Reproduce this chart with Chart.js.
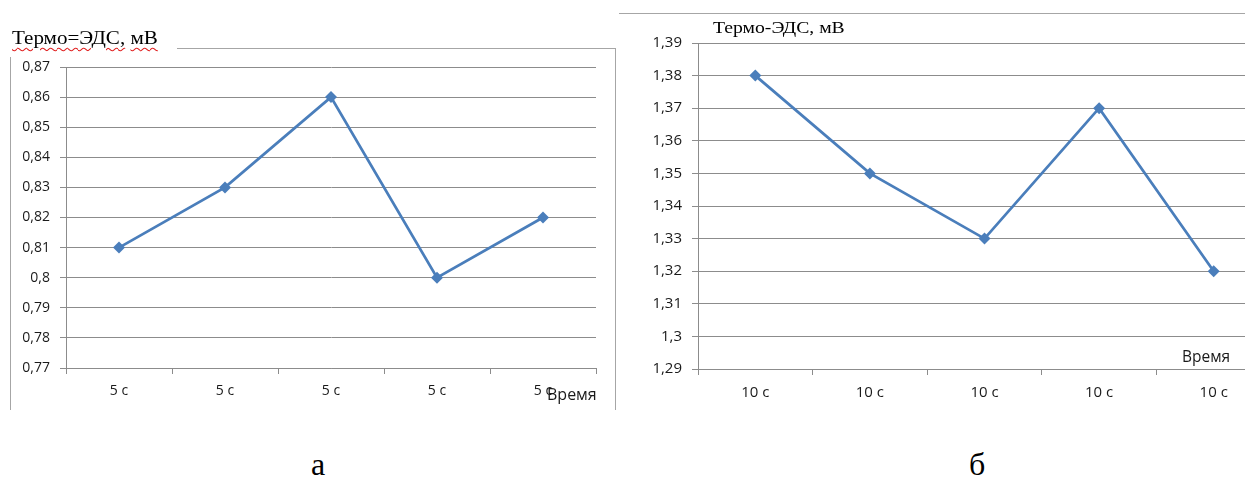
<!DOCTYPE html>
<html>
<head>
<meta charset="utf-8">
<script src="https://cdn.jsdelivr.net/npm/chart.js@4.4.1/dist/chart.umd.min.js"></script>
<style>
  html, body { margin: 0; padding: 0; background: #fff; overflow: hidden; }
  body { width: 1245px; height: 477px; position: relative; }
  canvas { position: absolute; }
  .frame { position: absolute; background: #a6a6a6; }
  .title { position: absolute; font-family: "Liberation Serif", serif; color: #000; white-space: nowrap; transform-origin: 0 0; }
  .spell { text-decoration: underline wavy #e02020; text-decoration-thickness: 1px; text-underline-offset: 3px; }
  .axisname { position: absolute; font-family: "Open Sans", sans-serif; color: #1a1a1a; white-space: nowrap; }
  .caption { position: absolute; font-family: "Liberation Serif", serif; font-size: 32px; color: #000; line-height: 1; }
</style>
</head>
<body>
<!-- chart frames -->
<div class="frame" style="left:10px; top:57px; width:1px; height:353px;"></div>
<div class="frame" style="left:177px; top:48px; width:439px; height:1px;"></div>
<div class="frame" style="left:615px; top:48px; width:1px; height:362px;"></div>
<div class="frame" style="left:619px; top:13px; width:626px; height:1px;"></div>

<canvas id="chartA" width="620" height="380" style="left:0px; top:40px;"></canvas>
<canvas id="chartB" width="680" height="420" style="left:610px; top:0px;"></canvas>

<div class="title" style="left:12px; top:28px; font-size:18px; transform:scaleX(1.17);"><span class="spell">Термо=ЭДС,</span> <span class="spell">мВ</span></div>
<div class="title" style="left:713px; top:19px; font-size:16px; transform:scaleX(1.23);">Термо-ЭДС, мВ</div>
<div class="axisname" style="left:547px; top:383px; font-size:16px;">Время</div>
<div class="axisname" style="left:1182px; top:345px; font-size:15.5px;">Время</div>

<div class="caption" style="left:311px; top:448px;">а</div>
<div class="caption" style="left:969px; top:448px;">б</div>

<script>
// Thermo-EMF measurements, 5 s exposure (chart а)
const categoriesA = ['5 с', '5 с', '5 с', '5 с', '5 с'];
const valuesA = [0.81, 0.83, 0.86, 0.80, 0.82];
const yTickLabelsA = ['0,77', '0,78', '0,79', '0,8', '0,81', '0,82', '0,83', '0,84', '0,85', '0,86', '0,87'];

// Thermo-EMF measurements, 10 s exposure (chart б)
const categoriesB = ['10 с', '10 с', '10 с', '10 с', '10 с'];
const valuesB = [1.38, 1.35, 1.33, 1.37, 1.32];
const yTickLabelsB = ['1,29', '1,3', '1,31', '1,32', '1,33', '1,34', '1,35', '1,36', '1,37', '1,38', '1,39'];

const LINE = '#4a7ebb';
const GRID = '#8c8c8c';
const TICKTEXT = '#1a1a1a';

function makeChart(id, labels, values, tickLabels, yMin, yMax, o) {
  return new Chart(document.getElementById(id), {
    type: 'line',
    data: {
      labels: labels,
      datasets: [{
        data: values,
        borderColor: LINE,
        backgroundColor: LINE,
        borderWidth: 2.75,
        pointStyle: 'rectRot',
        pointRadius: o.pointRadius,
        pointBorderWidth: 0,
        tension: 0
      }]
    },
    options: {
      responsive: false,
      animation: false,
      events: [],
      layout: { padding: { top: o.padTop, right: o.padRight, bottom: o.padBottom, left: 0 } },
      plugins: { legend: { display: false }, tooltip: { enabled: false }, title: { display: false } },
      scales: {
        x: {
          type: 'category',
          offset: true,
          grid: { offset: true, drawOnChartArea: false, drawTicks: true, tickLength: 6, color: GRID, lineWidth: 1 },
          border: { color: GRID, width: 1 },
          ticks: { color: TICKTEXT, font: { family: 'Open Sans', size: o.fontSize }, padding: o.xPad, maxRotation: 0, autoSkip: false },
          afterFit: s => { s.height = 40; }
        },
        y: {
          min: yMin,
          max: yMax,
          grid: { color: GRID, lineWidth: 1, tickLength: 6 },
          border: { color: GRID, width: 1 },
          ticks: {
            stepSize: 0.01,
            color: TICKTEXT,
            font: { family: 'Open Sans', size: o.fontSize },
            padding: o.yPad,
            callback: (v, i) => tickLabels[i]
          },
          afterFit: s => { s.width = o.yWidth; }
        }
      }
    }
  });
}

makeChart('chartA', categoriesA, valuesA, yTickLabelsA, 0.77, 0.87,
  { padTop: 27, padRight: 24, padBottom: 12, yWidth: 66, yPad: 10, xPad: 9, fontSize: 14, pointRadius: 6 });
makeChart('chartB', categoriesB, valuesB, yTickLabelsB, 1.29, 1.39,
  { padTop: 43, padRight: 19, padBottom: 11, yWidth: 88, yPad: 10, xPad: 9, fontSize: 15, pointRadius: 6 });
</script>
</body>
</html>
